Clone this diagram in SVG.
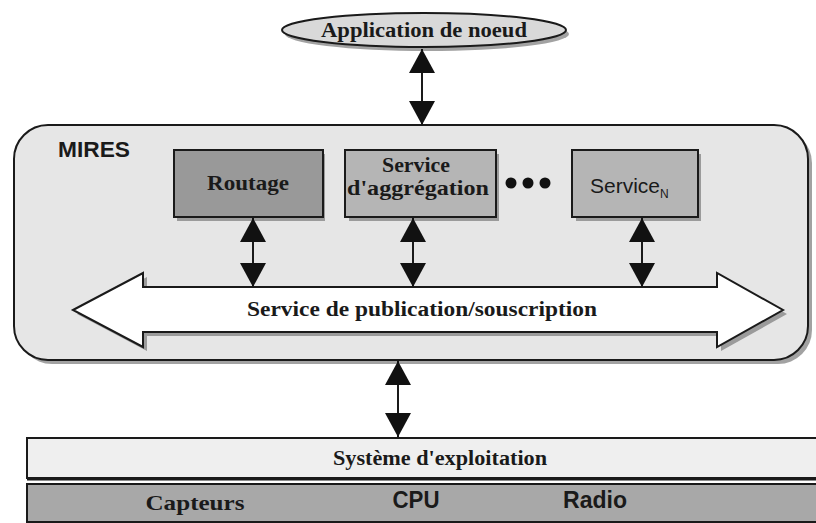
<svg xmlns="http://www.w3.org/2000/svg" width="816" height="523" viewBox="0 0 816 523">
<style>
.serif{font-family:"Liberation Serif","Times New Roman",serif;font-weight:bold;fill:#1a1a1a}
.sans{font-family:"Liberation Sans",Arial,sans-serif;font-weight:bold;fill:#1a1a1a}
.shadow{fill:#7a7a7a;opacity:0.7}
.box{stroke:#1a1a1a;stroke-width:2}
.conn{stroke:#1a1a1a;stroke-width:2;fill:none;marker-start:url(#ah);marker-end:url(#ah)}
</style>
<defs>
<marker id="ah" viewBox="0 0 24 26" refX="24" refY="13" markerWidth="24" markerHeight="26" markerUnits="userSpaceOnUse" orient="auto-start-reverse">
<path d="M0,0 L24,13 L0,26 z" fill="#111"/>
</marker>
</defs>
<rect width="816" height="523" fill="#ffffff"/>

<g id="app">
<ellipse cx="427" cy="34" rx="142" ry="17" class="shadow"/>
<ellipse cx="424" cy="30" rx="142" ry="17" fill="#d9d9d9" class="box"/>
<text x="424" y="37" text-anchor="middle" class="serif" font-size="20" textLength="206" lengthAdjust="spacingAndGlyphs">Application de noeud</text>
</g>

<g id="mires">
<rect x="18" y="129" width="794" height="235" rx="34" ry="34" class="shadow"/>
<rect x="14" y="125" width="794" height="235" rx="34" ry="34" fill="#e6e6e6" class="box"/>
<text x="58" y="157" class="sans" font-size="22" textLength="72" lengthAdjust="spacingAndGlyphs">MIRES</text>
</g>

<g id="routage">
<rect x="177" y="154" width="148" height="67" class="shadow"/>
<rect x="174" y="150" width="149" height="67" fill="#999999" class="box"/>
<text x="248" y="190" text-anchor="middle" class="serif" font-size="21" textLength="82" lengthAdjust="spacingAndGlyphs">Routage</text>
</g>

<g id="aggregation">
<rect x="349" y="154" width="150" height="67" class="shadow"/>
<rect x="345" y="150" width="151" height="67" fill="#b5b5b5" class="box"/>
<text x="416" y="172" text-anchor="middle" class="serif" font-size="21" textLength="68" lengthAdjust="spacingAndGlyphs">Service</text>
<text x="418" y="195" text-anchor="middle" class="serif" font-size="21" textLength="142" lengthAdjust="spacingAndGlyphs">d'aggrégation</text>
</g>

<g id="dots">
<circle cx="511" cy="183" r="5.5" fill="#111"/>
<circle cx="528" cy="183" r="5.5" fill="#111"/>
<circle cx="545" cy="183" r="5.5" fill="#111"/>
</g>

<g id="serviceN">
<rect x="576" y="154" width="125" height="67" class="shadow"/>
<rect x="572" y="150" width="126" height="67" fill="#b5b5b5" class="box"/>
<text x="590" y="193" class="sans" font-size="21" font-weight="normal" textLength="70" lengthAdjust="spacingAndGlyphs" style="font-weight:normal">Service</text>
<text x="660" y="198" class="sans" font-size="12" style="font-weight:normal">N</text>
</g>

<g id="pubsub">
<polygon points="77,314 147,277 147,291 721,291 721,277 787,314 721,351 721,336 147,336 147,351" class="shadow"/>
<polygon points="73,310 143,273 143,287 717,287 717,273 783,310 717,347 717,332 143,332 143,347" fill="#ffffff" class="box"/>
<text x="422" y="316" text-anchor="middle" class="serif" font-size="20" textLength="350" lengthAdjust="spacingAndGlyphs">Service de publication/souscription</text>
</g>

<g id="os">
<rect x="27" y="438" width="800" height="40" fill="#efefef" class="box"/>
<line x1="27" y1="479" x2="816" y2="479" stroke="#1a1a1a" stroke-width="3"/>
<text x="440" y="465" text-anchor="middle" class="serif" font-size="20" textLength="214" lengthAdjust="spacingAndGlyphs">Système d'exploitation</text>
</g>

<g id="hardware">
<rect x="27" y="484" width="800" height="38" fill="#a8a8a8" class="box"/>
<text x="195" y="510" text-anchor="middle" class="serif" font-size="21" textLength="99" lengthAdjust="spacingAndGlyphs">Capteurs</text>
<text x="416" y="508" text-anchor="middle" class="sans" font-size="24" textLength="47" lengthAdjust="spacingAndGlyphs">CPU</text>
<text x="595" y="508" text-anchor="middle" class="sans" font-size="24" textLength="64" lengthAdjust="spacingAndGlyphs">Radio</text>
</g>

<g id="connectors">
<line x1="422" y1="49" x2="422" y2="125" class="conn"/>
<line x1="253" y1="218" x2="253" y2="287" class="conn"/>
<line x1="413" y1="218" x2="413" y2="287" class="conn"/>
<line x1="642" y1="218" x2="642" y2="287" class="conn"/>
<line x1="398" y1="361" x2="398" y2="437" class="conn"/>
</g>
</svg>
